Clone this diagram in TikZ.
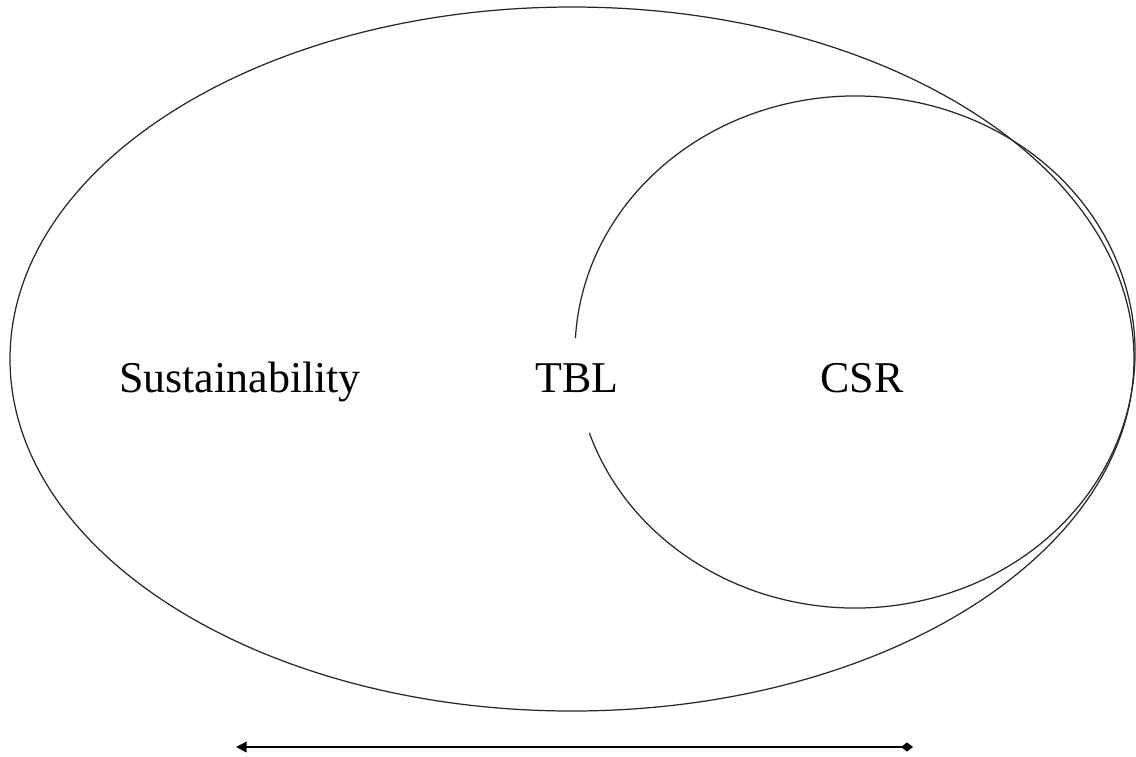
\documentclass[tikz,border=0pt]{standalone}
\usepackage{fontspec}
\setmainfont{Liberation Serif}
\usepackage{tikz}
\usetikzlibrary{arrows.meta}

\begin{document}
\begin{tikzpicture}[x=0.01cm,y=0.01cm]
\useasboundingbox (0,0) rectangle (1136,756);
\tikzset{lbl/.style={font=\fontsize{12.5}{15}\selectfont,anchor=base},
         ring/.style={line width=0.35pt,black!85}}
% outer ellipse
\draw[ring] (572,397) ellipse [x radius=562, y radius=352];
% inner ellipse, open where TBL sits
\draw[ring] (855,404) ++(198.4:280 and 256)
  arc[start angle=198.4, end angle=536.9, x radius=280, y radius=256];
\node[lbl] (sus) at (240,364) {Sustainability};
\node[lbl] (tbl) at (577,364) {TBL};
\node[lbl] (csr) at (862,364) {CSR};
% axis below
\coordinate (axl) at (236,9);
\coordinate (axr) at (913,9);
\draw[line width=0.45pt,{Triangle[length=3pt,width=3pt]}-{Diamond[length=3.4pt,width=2.6pt]}] (axl) -- (axr);
\end{tikzpicture}
\end{document}
